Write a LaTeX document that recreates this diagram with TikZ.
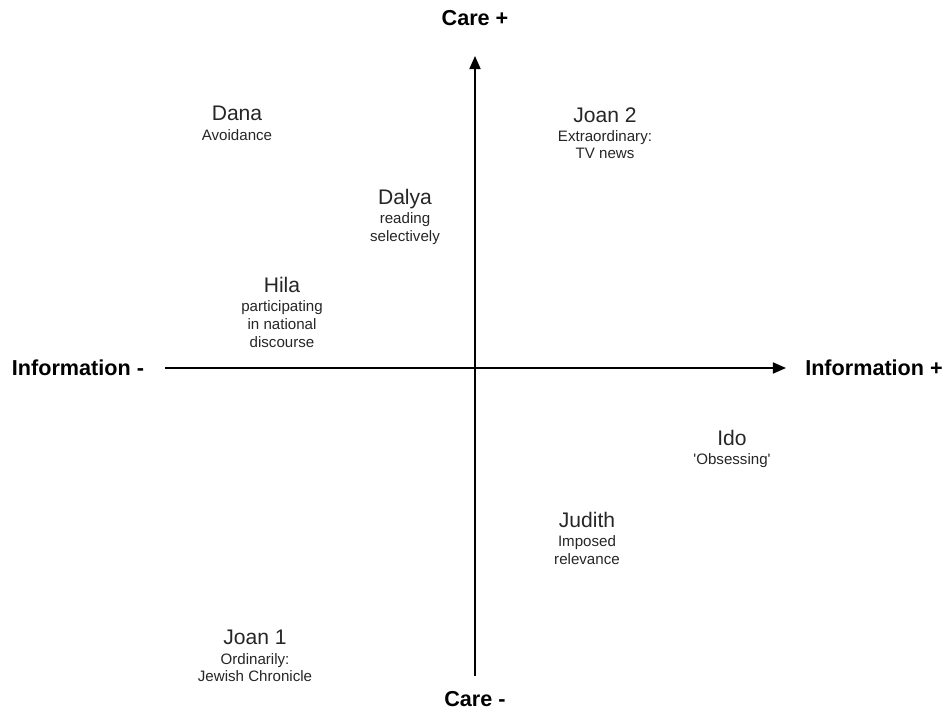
\documentclass[tikz,border=0pt]{standalone}
\usepackage{fontspec}
\setmainfont{Liberation Sans}
\usetikzlibrary{arrows.meta}

\tikzset{
  axis/.style={line width=1.1pt, -{Triangle[length=7.5pt,width=6.3pt]}},
  axislabel/.style={font=\bfseries\fontsize{12.3}{14}\selectfont, inner sep=0pt},
  who/.style={align=center, anchor=north, inner sep=0pt, text=black!85,
    font=\fontsize{8.6}{10}\selectfont},
}
\newcommand{\who}[1]{{\fontsize{12}{13}\selectfont #1}\\[1pt]}

\begin{document}
\begin{tikzpicture}[x=0.02cm, y=-0.02cm]
\useasboundingbox (0,0) rectangle (947,712);
% axes
\node[axislabel] (careplus) at (475,18) {Care +};
\node[axislabel] (caremin) at (475,699) {Care -};
\node[axislabel] (infomin) at (78,368) {Information -};
\node[axislabel] (infoplus) at (874,368) {Information +};
\coordinate (top) at (475,56);
\coordinate (bot) at (475,676);
\coordinate (left) at (165,368);
\coordinate (right) at (786,368);
\draw[axis] (bot) -- (top);
\draw[axis] (left) -- (right);
% people
\node[who] (dana) at (237,106) {\who{Dana}Avoidance};
\node[who] (dalya) at (405,189) {\who{Dalya}reading\\selectively};
\node[who] (hila) at (282,277) {\who{Hila}participating\\in national\\discourse};
\node[who] (joan2) at (605,107) {\who{Joan 2}Extraordinary:\\TV news};
\node[who] (ido) at (732,430) {\who{Ido}\textquotesingle Obsessing\textquotesingle};
\node[who] (judith) at (587,512) {\who{Judith}Imposed\\relevance};
\node[who] (joan1) at (255,630) {\who{Joan 1}Ordinarily:\\Jewish Chronicle};
\end{tikzpicture}
\end{document}
